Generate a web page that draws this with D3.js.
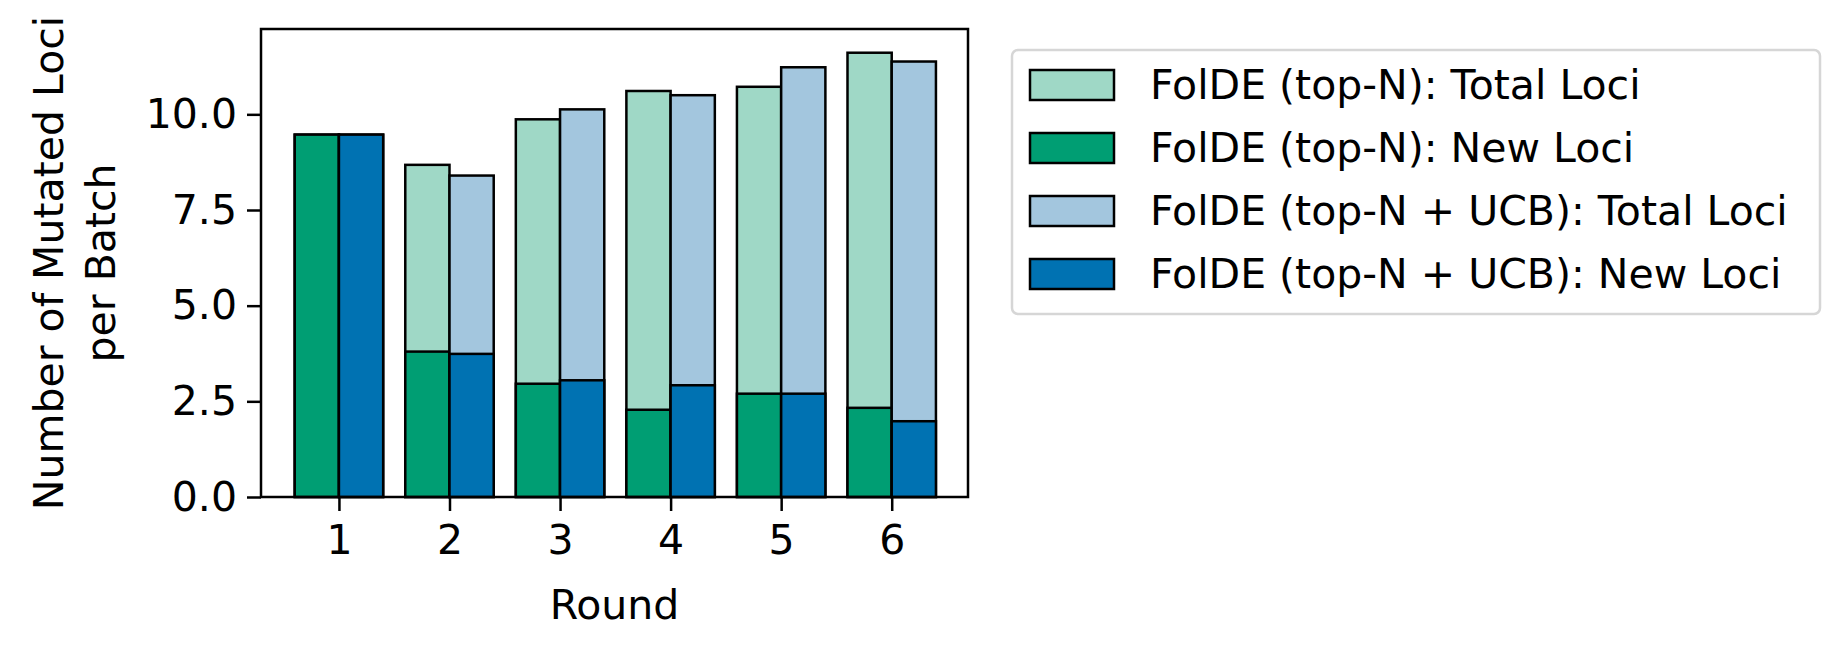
<!DOCTYPE html>
<html><head><meta charset="utf-8">
<script src="https://cdn.jsdelivr.net/npm/d3@7"></script>
<style>body{margin:0;background:#fff}text{font-family:"DejaVu Sans",sans-serif}</style>
</head><body>
<svg id="c" width="1839" height="651"></svg>
<script>
const rounds = [1,2,3,4,5,6];
const topNTotal = [9.47,8.68,9.87,10.61,10.72,11.61];
const topNNew   = [9.47,3.80,2.96,2.28,2.70,2.33];
const ucbTotal  = [9.47,8.40,10.13,10.50,11.23,11.38];
const ucbNew    = [9.47,3.74,3.05,2.92,2.70,1.98];
const yTicks = [0,2.5,5,7.5,10];
const legendLabels = ["FolDE (top-N): Total Loci","FolDE (top-N): New Loci","FolDE (top-N + UCB): Total Loci","FolDE (top-N + UCB): New Loci"];
const colors = ["#9fd8c6","#009e73","#a3c6de","#0072b2"];

const svg = d3.select("#c");
const L=261,R=968,T=29,B=497;
const x = d3.scaleLinear().domain([0.295,6.69]).range([L,R]);
const y = d3.scaleLinear().domain([0,12.23]).range([B,T]);
const w = 0.4;
const fs = 41;

function bars(vals, off, color){
  svg.append("g").selectAll("rect").data(rounds).join("rect")
    .attr("x",(d,i)=>x(d+off)).attr("width",x(w)-x(0))
    .attr("y",(d,i)=>y(vals[i])).attr("height",(d,i)=>y(0)-y(vals[i]))
    .attr("fill",color).attr("stroke","#000").attr("stroke-width",2.5);
}
bars(topNTotal,-w,colors[0]);
bars(topNNew,-w,colors[1]);
bars(ucbTotal,0,colors[2]);
bars(ucbNew,0,colors[3]);

svg.append("rect").attr("x",L).attr("y",T).attr("width",R-L).attr("height",B-T)
  .attr("fill","none").attr("stroke","#000").attr("stroke-width",2.5);

const xa = svg.append("g").attr("transform",`translate(0,${B})`)
  .call(d3.axisBottom(x).tickValues(rounds).tickSize(14).tickPadding(14).tickFormat(d3.format("d")));
const ya = svg.append("g").attr("transform",`translate(${L},0)`)
  .call(d3.axisLeft(y).tickValues(yTicks).tickSize(14).tickPadding(10).tickFormat(d3.format(".1f")));
[xa,ya].forEach(a=>{a.select(".domain").remove();a.selectAll("line").attr("stroke-width",2.5);
  a.selectAll("text").attr("font-size",fs).attr("font-family","DejaVu Sans").attr("fill","#000");});

svg.append("text").attr("x",(L+R)/2).attr("y",605).attr("dy","0.35em").attr("text-anchor","middle").attr("font-size",fs).text("Round");
const yl = svg.append("text").attr("transform",`translate(0,${(T+B)/2}) rotate(-90)`).attr("text-anchor","middle").attr("font-size",fs);
yl.append("tspan").attr("x",0).attr("y",63).text("Number of Mutated Loci");
yl.append("tspan").attr("x",0).attr("y",115).text("per Batch");

svg.append("rect").attr("x",1012).attr("y",50).attr("width",808).attr("height",264).attr("rx",6)
  .attr("fill","#fff").attr("stroke","#d6d6d6").attr("stroke-width",2.5);
const rows=[85,148,211,274];
legendLabels.forEach((t,i)=>{
  svg.append("rect").attr("x",1030).attr("y",rows[i]-15).attr("width",84).attr("height",30)
    .attr("fill",colors[i]).attr("stroke","#000").attr("stroke-width",2.5);
  svg.append("text").attr("x",1150).attr("y",rows[i]).attr("dy","0.35em").attr("font-size",fs).text(t);
});
</script></body></html>
